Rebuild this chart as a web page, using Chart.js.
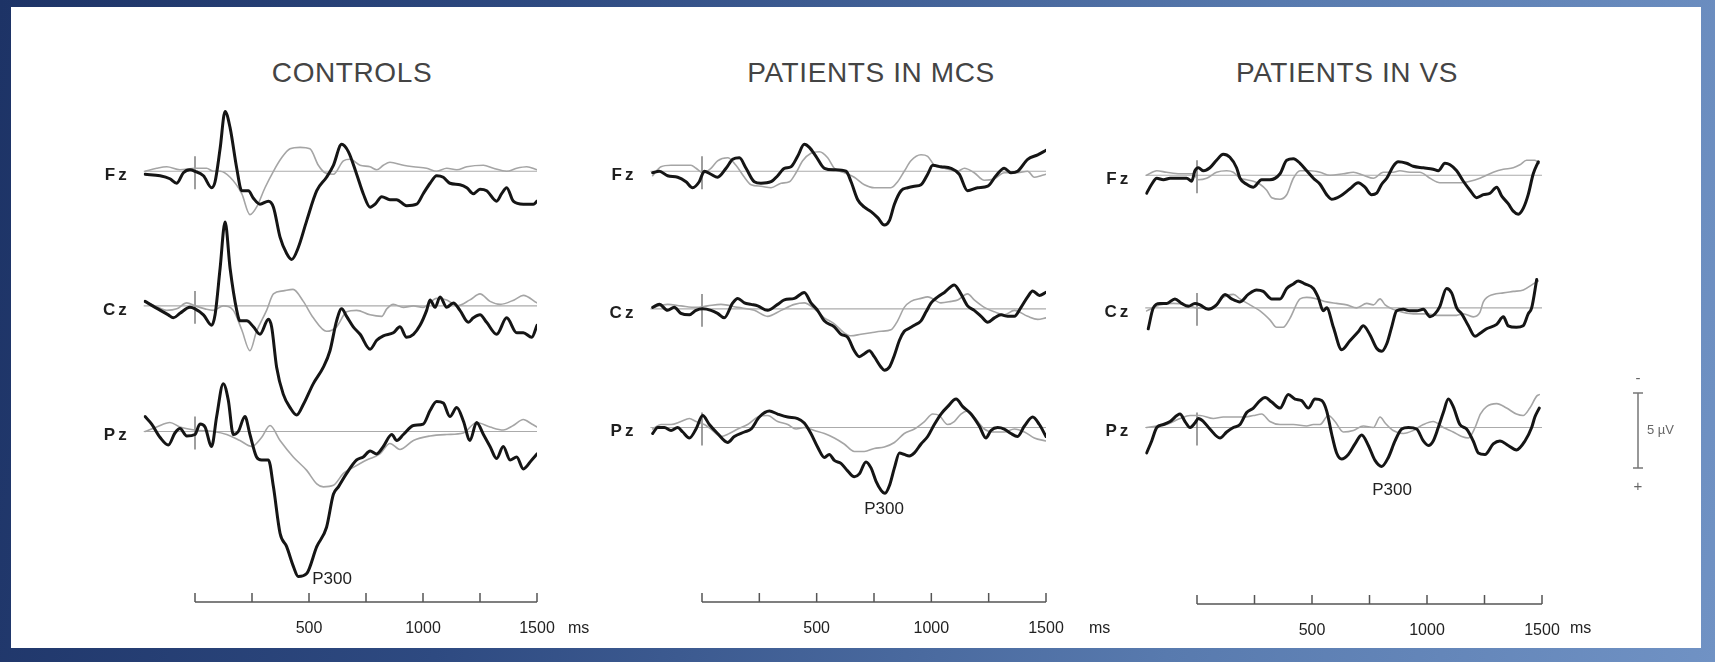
<!DOCTYPE html>
<html>
<head>
<meta charset="utf-8">
<title>ERP P300 by group</title>
<script src="https://cdn.jsdelivr.net/npm/chart.js@4.4.1/dist/chart.umd.min.js"></script>
<style>
    html, body { margin: 0; padding: 0; }
    body {
        width: 1715px; height: 662px; position: relative; overflow: hidden;
        background: linear-gradient(100deg, #1d3366 0%, #2e4a81 30%, #587aae 70%, #7092c4 100%);
        font-family: "Liberation Sans", Arial, sans-serif;
    }
    #sheet { position: absolute; left: 11px; top: 7px; width: 1690px; height: 641px; background: #fff; }
    canvas { position: absolute; }
    .title { position: absolute; top: 57px; font-size: 28px; letter-spacing: 0.6px; color: #444; transform: translateX(-50%); white-space: nowrap; }
    .unit { position: absolute; top: 619px; font-size: 16px; color: #222; }
</style>
</head>
<body>
<div id="sheet"></div>
<div class="title" style="left:352px">CONTROLS</div>
<div class="title" style="left:871px">PATIENTS IN MCS</div>
<div class="title" style="left:1347px">PATIENTS IN VS</div>
<canvas id="chart-controls"></canvas>
<canvas id="chart-mcs"></canvas>
<canvas id="chart-vs"></canvas>
<div class="unit" style="left:568px">ms</div>
<div class="unit" style="left:1089px">ms</div>
<div class="unit" style="left:1570px">ms</div>
<script>
// time axis (ms) and channels
let xMin = -225;
let xMax = 1500;
let axisTicks = [0, 250, 500, 750, 1000, 1250, 1500];
let axisLabels = [500, 1000, 1500];
let channels = ["Fz", "Cz", "Pz"];
let onsetMark = [-1.0, 1.2];          // µV extent of the stimulus onset marker
let scaleBar = [-2.3, 2.7];           // 5 µV calibration bar

// grand averages, [ms, µV] (negative up). "Target" = thick trace, "Std" = thin grey trace

// CONTROLS
let ctlFzTarget = [[-219,0.2],[-153,0.3],[-110,0.5],[-80,0.8],[-51,0.1],[-22,-0.1],[0,0],[37,0.3],[73,1.1],[88,0.7],[110,-1.5],[132,-4.0],[154,-2.9],[183,-0.2],[205,1.3],[234,1.3],[256,1.8],[285,2.2],[322,2.0],[344,2.4],[373,4.4],[402,5.5],[424,5.9],[453,5.1],[490,3.3],[534,1.3],[577,0.4],[607,-0.4],[643,-1.8],[673,-1.3],[709,0.2],[738,1.5],[768,2.4],[790,2.2],[819,1.7],[855,1.9],[884,1.9],[928,2.3],[972,2.2],[1001,1.5],[1031,0.8],[1060,0.3],[1089,0.4],[1118,0.8],[1162,0.9],[1192,1.1],[1221,1.5],[1250,1.2],[1279,1.3],[1323,2.0],[1345,1.5],[1367,1.1],[1396,2.0],[1440,2.2],[1484,2.2],[1500,2.0]];
let ctlFzStd = [[-219,0.0],[-168,-0.2],[-124,-0.3],[-66,-0.1],[0,-0.2],[51,-0.2],[80,0.0],[110,0.0],[154,0.4],[205,1.5],[241,2.9],[270,2.4],[307,1.1],[344,0.0],[380,-0.9],[417,-1.5],[461,-1.6],[504,-1.5],[541,-0.4],[570,0.1],[607,0.2],[651,-0.7],[680,-0.8],[724,-0.4],[768,-0.3],[797,-0.1],[826,-0.4],[855,-0.6],[914,-0.4],[958,-0.3],[1016,-0.2],[1060,0.0],[1104,-0.2],[1148,-0.1],[1192,-0.3],[1265,-0.4],[1309,-0.2],[1367,0.0],[1411,-0.2],[1455,-0.3],[1500,-0.1]];
let ctlCzTarget = [[-219,-0.3],[-175,0.1],[-117,0.6],[-95,0.8],[-66,0.5],[-22,0.1],[0,0.2],[37,0.6],[73,1.3],[88,0.6],[110,-2.5],[132,-5.6],[154,-2.5],[183,0.3],[197,1.0],[227,1.0],[256,1.4],[285,1.9],[322,0.9],[336,1.4],[358,4.1],[387,5.9],[417,6.8],[446,7.3],[475,6.6],[519,5.2],[563,4.1],[592,3.0],[621,1.0],[643,0.2],[665,0.7],[694,1.4],[724,1.9],[768,2.9],[797,2.3],[826,2.0],[870,1.8],[899,1.4],[928,2.1],[958,1.9],[987,1.3],[1016,0.3],[1031,-0.4],[1053,0.1],[1075,-0.6],[1104,0.1],[1133,-0.2],[1162,0.3],[1199,1.1],[1221,0.8],[1250,0.6],[1279,1.1],[1323,1.9],[1367,0.8],[1411,1.8],[1440,1.8],[1477,2.1],[1500,1.3]];
let ctlCzStd = [[-219,-0.3],[-175,0.0],[-124,0.3],[-80,0.2],[-36,-0.2],[0,0.0],[44,0.2],[80,0.3],[124,0.0],[168,0.3],[205,1.6],[241,3.0],[270,1.7],[314,0.3],[344,-0.8],[387,-1.0],[430,-1.1],[475,-0.3],[519,0.8],[577,1.7],[621,1.4],[665,0.4],[709,0.3],[768,0.6],[819,0.7],[841,0.2],[870,-0.1],[914,0.1],[958,0.0],[1000,0.1],[1060,-0.5],[1104,-0.4],[1150,0.0],[1206,-0.4],[1250,-0.8],[1294,-0.3],[1338,-0.1],[1400,-0.4],[1440,-0.7],[1500,-0.2]];
let ctlPzTarget = [[-219,-1.0],[-190,-0.5],[-153,0.4],[-117,0.9],[-88,0.1],[-66,-0.2],[-36,0.3],[0,0.2],[22,-0.5],[44,-0.3],[73,1.0],[95,-1.0],[124,-3.2],[146,-2.1],[168,0.2],[190,0.0],[219,-1.0],[241,0.2],[270,1.7],[292,1.9],[322,1.9],[344,3.7],[373,6.8],[402,7.7],[431,9.0],[453,9.7],[490,9.5],[534,7.7],[577,6.4],[607,4.2],[629,3.7],[665,2.8],[709,1.9],[738,1.7],[768,1.3],[797,1.5],[826,1.0],[863,0.2],[885,0.6],[914,0.2],[958,-0.4],[1001,-0.5],[1031,-1.4],[1060,-2.0],[1089,-1.9],[1118,-1.0],[1148,-1.6],[1177,-0.7],[1206,0.6],[1235,-0.6],[1265,0.2],[1294,1.0],[1323,1.8],[1352,1.0],[1382,1.9],[1411,1.7],[1440,2.5],[1477,1.9],[1500,1.5]];
let ctlPzStd = [[-219,0.0],[-168,-0.3],[-110,-0.6],[-66,-0.3],[0,-0.1],[80,0.0],[139,0.2],[197,0.6],[249,1.0],[292,0.4],[329,-0.4],[373,0.6],[431,1.7],[490,2.6],[534,3.5],[563,3.7],[607,3.6],[651,2.8],[694,2.4],[753,1.9],[811,1.5],[855,0.8],[899,1.2],[958,0.6],[1031,0.3],[1104,0.2],[1177,0.1],[1235,-0.6],[1294,-0.3],[1352,-0.1],[1396,-0.4],[1440,-0.8],[1477,-0.5],[1500,-0.3]];
let ctlP300 = [601, 9.9];

// PATIENTS IN MCS
let mcsFzTarget = [[-215,0.1],[-186,0.0],[-150,0.3],[-106,0.4],[-70,0.7],[-41,1.1],[-12,0.7],[10,0.0],[39,0.2],[68,0.4],[105,-0.2],[134,-0.8],[163,-0.9],[192,-0.2],[228,0.7],[257,0.8],[301,0.7],[330,0.3],[359,-0.2],[388,-0.3],[417,-1.0],[446,-1.8],[468,-1.6],[497,-1.0],[534,-0.2],[577,-0.1],[628,0.0],[650,0.7],[679,1.9],[708,2.4],[737,2.7],[766,3.1],[795,3.6],[817,3.3],[839,2.2],[868,1.3],[897,1.1],[926,1.0],[955,0.9],[984,0.2],[1006,-0.4],[1042,-0.3],[1086,-0.2],[1122,0.2],[1158,1.3],[1202,1.1],[1246,1.0],[1282,0.3],[1318,-0.2],[1347,0.1],[1376,0.0],[1420,-0.8],[1464,-1.1],[1500,-1.4]];
let mcsFzStd = [[-215,0.3],[-179,-0.3],[-135,-0.4],[-92,-0.4],[-48,-0.4],[-26,-0.2],[3,0.1],[39,-0.2],[68,-0.7],[112,-0.9],[148,-0.4],[185,0.4],[214,0.9],[257,1.0],[301,1.1],[345,0.8],[381,0.7],[410,0.1],[439,-0.7],[475,-1.2],[512,-1.3],[548,-0.9],[577,-0.2],[621,0.1],[664,0.4],[708,0.9],[751,1.1],[824,1.1],[853,0.7],[882,0.0],[911,-0.7],[955,-1.1],[984,-1.0],[1013,-0.4],[1057,-0.2],[1115,0.0],[1144,-0.2],[1187,0.1],[1231,0.6],[1275,0.5],[1318,0.1],[1376,0.1],[1420,0.0],[1449,0.4],[1478,0.3],[1500,0.2]];
let mcsCzTarget = [[-215,-0.1],[-186,-0.3],[-150,0.1],[-121,-0.1],[-92,0.3],[-55,0.4],[-26,0.1],[3,0.0],[39,0.1],[68,0.3],[97,0.6],[134,-0.4],[156,-0.7],[185,-0.4],[214,-0.3],[243,-0.2],[286,0.1],[330,-0.3],[359,-0.6],[403,-0.7],[446,-1.1],[475,-0.4],[504,0.1],[533,0.8],[577,1.2],[606,1.7],[635,1.9],[664,2.8],[686,3.2],[708,3.0],[730,2.8],[751,3.2],[781,3.9],[795,4.1],[817,3.9],[839,3.1],[861,2.1],[882,1.5],[904,1.3],[926,1.1],[955,0.8],[977,0.2],[999,-0.4],[1028,-0.8],[1057,-1.1],[1100,-1.6],[1129,-1.0],[1158,-0.2],[1187,0.1],[1217,0.5],[1246,0.9],[1275,0.6],[1304,0.4],[1333,0.5],[1362,0.5],[1391,-0.1],[1420,-0.8],[1442,-1.2],[1471,-0.9],[1500,-1.1]];
let mcsCzStd = [[-215,-0.1],[-150,-0.3],[-92,-0.2],[-26,-0.1],[25,-0.2],[83,-0.3],[156,-0.1],[228,0.1],[286,0.5],[345,0.1],[403,-0.3],[446,-0.4],[490,0.0],[533,0.6],[577,1.0],[620,1.6],[650,1.8],[693,1.7],[737,1.6],[781,1.5],[824,1.4],[853,0.8],[882,-0.1],[911,-0.5],[955,-0.7],[984,-0.8],[1042,-0.4],[1086,-0.5],[1115,-0.6],[1158,-1.0],[1187,-0.6],[1231,-0.1],[1275,0.2],[1318,0.4],[1362,0.1],[1420,0.5],[1464,0.7],[1500,0.6]];
let mcsPzTarget = [[-215,0.4],[-193,0.0],[-164,0.0],[-135,0.2],[-106,0.0],[-84,0.3],[-55,0.7],[-26,0.1],[3,-0.8],[32,-0.2],[68,0.4],[112,1.0],[141,0.6],[185,0.3],[214,0.1],[250,-0.7],[294,-1.1],[330,-0.9],[374,-0.7],[417,-0.6],[446,-0.3],[475,0.4],[504,1.3],[534,2.0],[555,1.8],[577,2.2],[606,2.4],[635,2.9],[664,3.3],[686,3.1],[715,2.3],[737,2.7],[759,3.6],[781,4.2],[798,4.4],[817,3.9],[839,2.7],[861,1.7],[882,1.8],[904,1.9],[926,1.7],[955,1.1],[984,0.6],[1013,-0.2],[1042,-0.9],[1071,-1.4],[1108,-1.9],[1137,-1.4],[1173,-0.9],[1209,-0.1],[1238,0.7],[1260,0.2],[1289,0.0],[1318,0.1],[1347,0.4],[1376,0.6],[1406,-0.1],[1442,-0.7],[1471,-0.2],[1500,0.6]];
let mcsPzStd = [[-215,0.1],[-179,-0.2],[-135,-0.2],[-92,-0.4],[-55,-0.6],[-26,-0.4],[10,-0.2],[39,0.1],[83,0.6],[119,0.4],[156,0.1],[199,-0.2],[243,-0.7],[286,-0.8],[330,-0.4],[374,-0.2],[410,0.1],[446,0.0],[490,0.2],[534,0.4],[577,0.7],[620,1.1],[664,1.6],[708,1.6],[751,1.4],[795,1.3],[839,1.0],[882,0.4],[926,0.1],[970,-0.4],[1006,-0.9],[1035,-0.8],[1071,-0.2],[1100,-0.4],[1129,-0.9],[1158,-1.1],[1187,-0.7],[1231,0.1],[1275,0.3],[1318,0.3],[1362,0.1],[1406,0.3],[1449,0.7],[1500,0.9]];
let mcsP300 = [794, 5.5];

// PATIENTS IN VS
let vsFzTarget = [[-219,1.2],[-197,0.6],[-175,0.2],[-146,0.3],[-117,0.2],[-74,0.2],[-45,0.2],[-23,0.4],[-9,-0.3],[6,-0.5],[28,-0.3],[56,-0.5],[85,-1.0],[114,-1.4],[143,-1.2],[172,-0.5],[187,0.2],[216,0.6],[245,0.8],[281,0.3],[317,0.3],[361,-0.1],[390,-1.0],[419,-1.1],[448,-0.8],[477,-0.3],[506,0.2],[535,0.6],[564,1.3],[585,1.6],[622,1.4],[665,0.9],[701,0.5],[730,0.8],[759,1.3],[781,1.2],[803,0.6],[825,0.2],[853,-0.6],[875,-0.9],[911,-0.8],[940,-0.6],[984,-0.5],[1027,-0.4],[1049,-0.3],[1078,-0.8],[1100,-0.7],[1129,-0.3],[1158,0.4],[1187,1.0],[1216,1.5],[1245,1.3],[1274,1.2],[1303,0.8],[1325,1.4],[1353,1.9],[1375,2.4],[1397,2.6],[1419,2.2],[1440,1.3],[1462,-0.1],[1484,-0.9]];
let vsFzStd = [[-219,0.0],[-175,-0.3],[-132,-0.2],[-74,-0.1],[-16,-0.1],[6,0.3],[42,0.2],[85,-0.2],[129,-0.3],[158,-0.2],[187,0.2],[216,0.3],[245,0.4],[274,0.6],[303,1.0],[325,1.5],[361,1.6],[390,1.3],[419,0.2],[448,-0.3],[491,-0.3],[535,-0.2],[578,0.0],[636,-0.1],[680,-0.2],[723,0.0],[767,0.2],[810,-0.2],[853,-0.2],[882,-0.3],[926,-0.2],[969,-0.2],[1013,0.2],[1056,0.5],[1100,0.5],[1143,0.5],[1187,0.4],[1230,0.2],[1288,-0.2],[1332,-0.4],[1375,-0.5],[1404,-0.7],[1433,-1.0],[1469,-1.0],[1488,-0.8]];
let vsCzTarget = [[-212,1.4],[-190,0.0],[-161,-0.3],[-132,-0.3],[-96,-0.6],[-67,-0.3],[-38,-0.1],[-9,-0.3],[13,-0.2],[49,0.1],[85,-0.2],[122,-0.9],[151,-0.6],[187,-0.4],[223,-0.9],[259,-1.2],[288,-1.1],[325,-0.6],[361,-0.6],[390,-1.3],[419,-1.6],[440,-1.8],[469,-1.6],[506,-1.3],[527,-0.7],[549,0.2],[564,0.0],[593,1.3],[629,2.8],[665,2.2],[701,1.6],[723,1.2],[752,1.8],[781,2.7],[803,2.9],[825,2.4],[846,1.3],[868,0.2],[897,0.1],[926,0.2],[955,0.2],[984,0.1],[1013,0.6],[1035,0.4],[1056,-0.1],[1085,-1.3],[1107,-1.0],[1129,0.0],[1151,0.4],[1180,1.2],[1209,1.9],[1231,1.7],[1259,1.4],[1303,1.1],[1332,0.6],[1353,1.2],[1389,1.3],[1418,1.2],[1440,0.4],[1455,0.0],[1477,-1.9]];
let vsCzStd = [[-219,0.2],[-161,-0.2],[-103,-0.3],[-45,-0.2],[0,0.0],[71,0.0],[114,-0.7],[158,-0.9],[187,-0.6],[230,-0.2],[274,0.2],[317,0.8],[346,1.3],[375,1.3],[404,0.7],[448,-0.6],[477,-0.7],[520,-0.6],[564,-0.4],[607,-0.3],[651,-0.2],[694,0.0],[738,-0.3],[767,-0.2],[796,-0.6],[818,-0.2],[853,0.1],[897,0.3],[940,0.4],[998,0.4],[1042,0.5],[1085,0.5],[1129,0.5],[1158,0.4],[1201,0.6],[1230,0.3],[1245,-0.4],[1288,-0.9],[1332,-1.0],[1375,-1.1],[1419,-1.2],[1462,-1.6],[1484,-1.8]];
let vsPzTarget = [[-219,1.7],[-197,0.9],[-175,0.0],[-146,-0.2],[-117,-0.4],[-74,-0.9],[-52,-0.4],[-30,0.0],[-9,-0.3],[6,-0.6],[28,-0.4],[56,0.1],[100,0.7],[129,0.3],[158,0.0],[187,-0.2],[216,-1.0],[245,-1.3],[274,-1.8],[296,-2.0],[325,-1.7],[361,-1.3],[397,-2.2],[426,-1.9],[455,-1.8],[484,-1.3],[513,-1.9],[542,-1.8],[564,-1.1],[585,0.4],[607,1.7],[629,2.1],[658,1.8],[687,1.1],[716,0.5],[745,1.2],[774,2.2],[803,2.6],[832,2.0],[861,0.9],[890,0.1],[919,0.0],[955,0.1],[984,0.9],[1006,1.2],[1027,0.9],[1049,0.0],[1071,-1.0],[1093,-1.9],[1114,-1.4],[1143,-0.2],[1172,0.1],[1201,0.9],[1223,1.7],[1252,1.8],[1288,1.1],[1317,0.9],[1353,1.2],[1389,1.5],[1426,0.9],[1455,0.0],[1469,-0.7],[1488,-1.3]];
let vsPzStd = [[-219,0.0],[-175,-0.1],[-132,-0.2],[-74,-0.6],[-30,-0.8],[13,-0.8],[71,-0.6],[114,-0.7],[158,-0.7],[201,-0.7],[245,-0.8],[281,-0.9],[317,-0.4],[361,-0.2],[419,-0.2],[477,-0.1],[506,-0.2],[535,-0.2],[571,-0.8],[600,-0.4],[636,0.3],[680,0.2],[723,-0.1],[767,0.0],[796,-0.7],[818,-0.3],[853,0.2],[897,0.4],[940,0.2],[984,-0.2],[1027,-0.4],[1071,0.0],[1114,0.3],[1151,0.6],[1180,0.7],[1209,0.0],[1232,-0.9],[1259,-1.4],[1303,-1.6],[1346,-1.3],[1389,-0.9],[1418,-0.8],[1447,-1.3],[1477,-2.1],[1488,-2.2]];
let vsP300 = [848, 4.2];

// page layout, in pixels
let fontFamily = '"Liberation Sans", Arial, sans-serif';
let plotTop = 90;
let pxPerUV = 15;

let panels = [
    {
        canvas: "chart-controls", zeroPx: 195, endPx: 537, axisPx: 602, bases: [170, 305, 431], padL: 60, padR: 40,
        series: [[ctlFzTarget, ctlFzStd], [ctlCzTarget, ctlCzStd], [ctlPzTarget, ctlPzStd]], p300: ctlP300, showScaleBar: false
    },
    {
        canvas: "chart-mcs", zeroPx: 702, endPx: 1046, axisPx: 602, bases: [170, 308, 427], padL: 60, padR: 40,
        series: [[mcsFzTarget, mcsFzStd], [mcsCzTarget, mcsCzStd], [mcsPzTarget, mcsPzStd]], p300: mcsP300, showScaleBar: false
    },
    {
        canvas: "chart-vs", zeroPx: 1197, endPx: 1542, axisPx: 604, bases: [174, 307, 427], padL: 60, padR: 165,
        series: [[vsFzTarget, vsFzStd], [vsCzTarget, vsCzStd], [vsPzTarget, vsPzStd]], p300: vsP300, showScaleBar: true
    }
];

// baselines, onset markers, channel names, time axis, P300 tag, calibration bar
let erpDecor = {
    id: "erpDecor",
    beforeDatasetsDraw: function (chart) {
        let ctx = chart.ctx;
        let x = chart.scales.x;
        let x0 = x.getPixelForValue(0);
        ctx.save();
        channels.forEach(function (ch) {
            let y = chart.scales["y" + ch];
            let y0 = y.getPixelForValue(0);

            ctx.strokeStyle = "#ababab";
            ctx.lineWidth = 1.2;
            ctx.beginPath();
            ctx.moveTo(x.getPixelForValue(xMin), y0);
            ctx.lineTo(x.getPixelForValue(xMax), y0);
            ctx.stroke();

            ctx.strokeStyle = "#6a6a6a";
            ctx.lineWidth = 1.3;
            ctx.beginPath();
            ctx.moveTo(x0, y.getPixelForValue(onsetMark[0]));
            ctx.lineTo(x0, y.getPixelForValue(onsetMark[1]));
            ctx.stroke();

            ctx.fillStyle = "#1e1e1e";
            ctx.font = "bold 17px " + fontFamily;
            ctx.letterSpacing = "3px";
            ctx.textAlign = "right";
            ctx.textBaseline = "middle";
            ctx.fillText(ch, chart.chartArea.left - 14, y0 + 4);
            ctx.letterSpacing = "0px";
        });
        ctx.restore();
    },
    afterDatasetsDraw: function (chart, args, opts) {
        let ctx = chart.ctx;
        let x = chart.scales.x;
        let yAxis = chart.chartArea.bottom;
        ctx.save();

        ctx.strokeStyle = "#555";
        ctx.lineWidth = 1.5;
        ctx.beginPath();
        ctx.moveTo(x.getPixelForValue(axisTicks[0]), yAxis);
        ctx.lineTo(x.getPixelForValue(axisTicks[axisTicks.length - 1]), yAxis);
        axisTicks.forEach(function (t) {
            let px = x.getPixelForValue(t);
            ctx.moveTo(px, yAxis);
            ctx.lineTo(px, yAxis - 9);
        });
        ctx.stroke();

        let yPz = chart.scales.yPz;
        ctx.fillStyle = "#222";
        ctx.font = "17px " + fontFamily;
        ctx.textAlign = "center";
        ctx.textBaseline = "middle";
        ctx.fillText("P300", x.getPixelForValue(opts.p300[0]), yPz.getPixelForValue(opts.p300[1]));

        if (opts.showScaleBar) {
            let bx = chart.chartArea.right + 96;
            let top = yPz.getPixelForValue(scaleBar[0]);
            let bottom = yPz.getPixelForValue(scaleBar[1]);
            ctx.strokeStyle = "#777";
            ctx.lineWidth = 1.5;
            ctx.beginPath();
            ctx.moveTo(bx, top);
            ctx.lineTo(bx, bottom);
            ctx.moveTo(bx - 5, top);
            ctx.lineTo(bx + 5, top);
            ctx.moveTo(bx - 5, bottom);
            ctx.lineTo(bx + 5, bottom);
            ctx.stroke();

            ctx.fillStyle = "#666";
            ctx.font = "15px " + fontFamily;
            ctx.fillText("-", bx, top - 14);
            ctx.fillText("+", bx, bottom + 19);
            ctx.font = "13px " + fontFamily;
            ctx.textAlign = "left";
            ctx.fillText("5 \u00b5V", bx + 9, (top + bottom) / 2);
        }
        ctx.restore();
    }
};

function buildPanel(p) {
    let pxPerMs = (p.endPx - p.zeroPx) / xMax;
    let areaLeft = p.zeroPx + xMin * pxPerMs;
    let left = Math.floor(areaLeft - p.padL);
    let width = Math.ceil(p.endPx + p.padR) - left;
    let height = 560;
    let target = { left: areaLeft - left, right: p.endPx - left, bottom: p.axisPx - plotTop };

    let canvas = document.getElementById(p.canvas);
    canvas.width = width;
    canvas.height = height;
    canvas.style.left = left + "px";
    canvas.style.top = plotTop + "px";

    let scales = {
        x: {
            type: "linear",
            min: xMin,
            max: xMax,
            grid: { display: false, drawTicks: false },
            border: { display: false },
            afterBuildTicks: function (axis) {
                axis.ticks = axisTicks.map(function (v) { return { value: v }; });
            },
            ticks: {
                autoSkip: false,
                maxRotation: 0,
                padding: 17,
                color: "#222",
                font: { size: 16, family: fontFamily },
                callback: function (v) { return axisLabels.indexOf(v) >= 0 ? String(v) : ""; }
            }
        }
    };

    let targets = [];
    let standards = [];
    channels.forEach(function (ch, i) {
        let base = p.bases[i];
        scales["y" + ch] = {
            type: "linear",
            display: false,
            reverse: true,
            min: (plotTop - base) / pxPerUV,
            max: (p.axisPx - base) / pxPerUV
        };
        targets.push({ label: ch + " target", data: p.series[i][0], yAxisID: "y" + ch, borderColor: "#151515", borderWidth: 3 });
        standards.push({ label: ch + " standard", data: p.series[i][1], yAxisID: "y" + ch, borderColor: "#a5a5a5", borderWidth: 1.6 });
    });

    let padding = { left: target.left, right: width - target.right, top: 0, bottom: 12 };

    let chart = new Chart(canvas, {
        type: "line",
        data: { datasets: targets.concat(standards) },
        options: {
            responsive: false,
            animation: false,
            layout: { padding: padding },
            elements: {
                point: { radius: 0 },
                line: { cubicInterpolationMode: "monotone", borderJoinStyle: "round", borderCapStyle: "round" }
            },
            plugins: {
                legend: { display: false },
                tooltip: { enabled: false },
                erpDecor: { p300: p.p300, showScaleBar: p.showScaleBar }
            },
            scales: scales
        },
        plugins: [erpDecor]
    });

    // the x axis height depends on the font, so nudge the padding until the plot area sits where it should
    let area = chart.chartArea;
    padding.bottom += area.bottom - target.bottom;
    padding.left += target.left - area.left;
    padding.right += area.right - target.right;
    chart.options.layout.padding = padding;
    chart.update();
}

panels.forEach(buildPanel);
</script>
</body>
</html>
